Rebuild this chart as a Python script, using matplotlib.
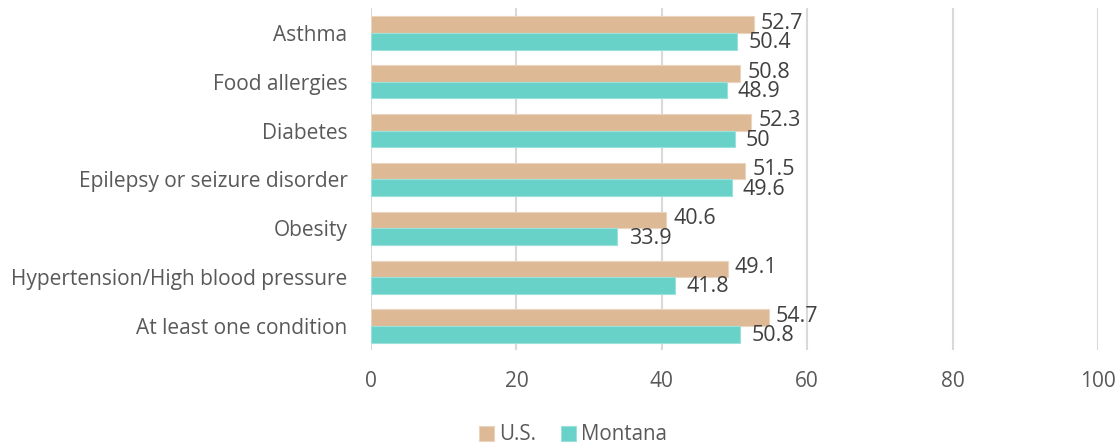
import numpy as np
import matplotlib.pyplot as plt

plt.rcParams['font.family'] = ['Open Sans', 'DejaVu Sans']

conditions = ['Asthma', 'Food allergies', 'Diabetes', 'Epilepsy or seizure disorder',
              'Obesity', 'Hypertension/High blood pressure', 'At least one condition']
us_vals = [52.7, 50.8, 52.3, 51.5, 40.6, 49.1, 54.7]
mt_vals = [50.4, 48.9, 50, 49.6, 33.9, 41.8, 50.8]

tan = '#DDB995'
teal = '#68D2C9'
txt = '#404040'

fig = plt.figure(figsize=(11.19, 4.44), dpi=100)
ax = fig.add_axes([0.3316, 0.2106, 0.6496, 0.7703])

y = np.arange(len(conditions))
h = 0.34
ax.barh(y - h / 2, us_vals, height=h, color=tan, edgecolor='#EBD5BF', linewidth=0.8, label='U.S.', zorder=3)
ax.barh(y + h / 2, mt_vals, height=h, color=teal, edgecolor='#9BE0DA', linewidth=0.8, label='Montana', zorder=3)

# value labels just past the end of each bar
for yi, v in zip(y, us_vals):
    ax.annotate('{:g}'.format(v), (v, yi - h / 2), xytext=(5, 1), textcoords='offset points',
                va='center', ha='left', fontsize=15.5, color=txt)
for yi, v in zip(y, mt_vals):
    ax.annotate('{:g}'.format(v), (v, yi + h / 2), xytext=(8, -1), textcoords='offset points',
                va='center', ha='left', fontsize=15.5, color=txt)

ax.set_xlim(0, 100)
ax.set_ylim(len(conditions) - 0.5, -0.5)
ax.set_xticks(range(0, 101, 20))
ax.set_yticks(y)
ax.set_yticklabels(conditions, fontsize=15)
ax.tick_params(axis='both', length=0, colors='#595959')
ax.tick_params(axis='x', labelsize=15, pad=15)
ax.tick_params(axis='y', pad=17)
ax.grid(axis='x', color='#D9D9D9', linewidth=1.5, zorder=0)
for s in ax.spines.values():
    s.set_visible(False)

leg = fig.legend(loc='lower center', bbox_to_anchor=(0.512, -0.045), ncol=2, frameon=False,
                 fontsize=14.8, handlelength=0.75, handleheight=0.75, handletextpad=0.25,
                 columnspacing=1.2)
for t in leg.get_texts():
    t.set_color('#595959')

fig.savefig('out.png', dpi=100)
